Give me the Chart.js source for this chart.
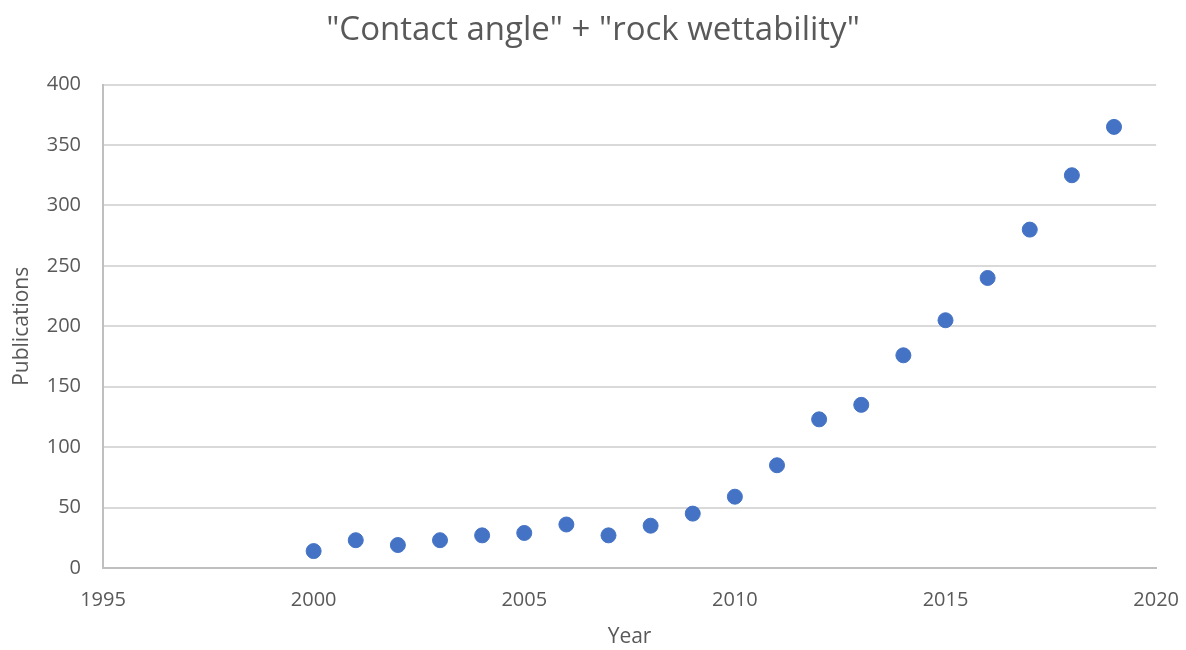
<!DOCTYPE html>
<html><head><meta charset="utf-8">
<script src="https://cdn.jsdelivr.net/npm/chart.js@4/dist/chart.umd.min.js"></script>
<style>html,body{margin:0;padding:0;background:#fff}#wrap{width:1186px;height:650px}</style>
</head><body><div id="wrap"><canvas id="c" width="1186" height="650"></canvas></div>
<script>
const years = [2000,2001,2002,2003,2004,2005,2006,2007,2008,2009,2010,2011,2012,2013,2014,2015,2016,2017,2018,2019];
const publications = [14,23,19,23,27,29,36,27,35,45,59,85,123,135,176,205,240,280,325,365];
const xTicks = [1995,2000,2005,2010,2015,2020];
const yTicks = [0,50,100,150,200,250,300,350,400];
const FONT = "'Open Sans', 'Liberation Sans', sans-serif";
const TXT = '#595959';
new Chart(document.getElementById('c'), {
  type: 'scatter',
  data: { datasets: [{ data: years.map((y,i)=>({x:y,y:publications[i]})), backgroundColor:'#4472C4', borderColor:'#4472C4', pointRadius:7.5, pointHoverRadius:7.5 }] },
  options: {
    responsive:false, animation:false,
    layout:{padding:{left:0,right:0,top:0,bottom:0}},
    plugins:{
      legend:{display:false}, tooltip:{enabled:false},
      title:{display:true, text:'"Contact angle" + "rock wettability"', color:TXT, font:{family:FONT,size:33,weight:'normal'}, padding:{top:11,bottom:34}}
    },
    scales:{
      x:{type:'linear', min:1995, max:2020,
        afterBuildTicks:(s)=>{s.ticks = xTicks.map(v=>({value:v}));},
        grid:{display:false, drawTicks:true, tickLength:13, tickColor:'rgba(0,0,0,0)'},
        border:{display:true,color:'#bfbfbf',width:2},
        ticks:{color:TXT, font:{family:FONT,size:20}, padding:7, callback:(v)=>String(v)},
        title:{display:true,text:'Year',color:TXT,font:{family:FONT,size:21},padding:{top:4,bottom:0}},
        afterFit:(s)=>{s.height=82;}
      },
      y:{min:0,max:400,
        afterBuildTicks:(s)=>{s.ticks = yTicks.map(v=>({value:v}));},
        grid:{color:'#d9d9d9',lineWidth:2,drawTicks:false},
        border:{display:true,color:'#bfbfbf',width:2},
        ticks:{color:TXT, font:{family:FONT,size:20}, padding:22, callback:(v)=>String(v)},
        title:{display:true,text:'Publications',color:TXT,font:{family:FONT,size:21},padding:{top:9,bottom:4}},
        afterFit:(s)=>{s.width=103;}
      }
    }
  }
});
</script></body></html>
